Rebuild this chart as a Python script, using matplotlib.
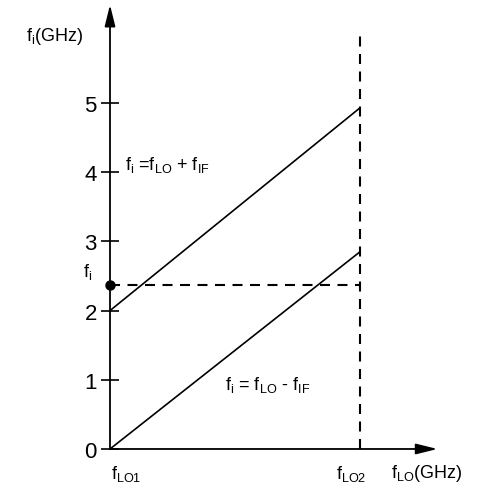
"""
Image frequency vs LO frequency sketch: f_i = f_LO + f_IF and f_i = f_LO - f_IF.
"""

import matplotlib
matplotlib.use("Agg")
import matplotlib.pyplot as plt

plt.rcParams["font.family"] = ["Liberation Sans", "DejaVu Sans"]
plt.rcParams["mathtext.fontset"] = "custom"
plt.rcParams["mathtext.rm"] = "Liberation Sans"
plt.rcParams["mathtext.it"] = "Liberation Sans"

# LO sweep endpoints (f_LO1 -> 0, f_LO2 -> 1) and the two frequency lines
LO_SWEEP  = [0.0, 1.0]
F_SUM     = [2.0, 4.93]     # f_i = f_LO + f_IF
F_DIFF    = [0.0, 2.85]     # f_i = f_LO - f_IF
FI_LEVEL  = 2.37            # marked f_i
LO2_TOP   = 6.07            # top of the f_LO2 marker line
Y_TICKS   = [0, 1, 2, 3, 4, 5]
X_END, Y_END = 1.31, 6.42   # arrow tips


def sub(s):
    return r"$_\mathregular{%s}$" % s


fig = plt.figure(figsize=(4.8, 4.85), dpi=100)
ax = fig.add_axes([0, 0, 1, 1])
ax.set_xlim(-0.44, 1.48)
ax.set_ylim(-0.506, 6.503)

# axes drawn as arrows through the origin
arrow = dict(arrowstyle="-|>,head_length=0.65,head_width=0.16",
             mutation_scale=20, color="black", lw=1.3,
             shrinkA=0, shrinkB=0)
ax.annotate("", xy=(0, Y_END), xytext=(0, 0), arrowprops=arrow)
ax.annotate("", xy=(X_END, 0), xytext=(0, 0), arrowprops=arrow)

for s in ax.spines.values():
    s.set_visible(False)
ax.spines["left"].set_position(("data", 0))
ax.spines["bottom"].set_position(("data", 0))
ax.set_yticks(Y_TICKS)
ax.set_yticklabels([str(t) for t in Y_TICKS], fontsize=16)
ax.tick_params(axis="y", direction="inout", length=13, width=1.2, pad=3)
ax.set_xticks([])

# the two frequency lines
ax.plot(LO_SWEEP, F_SUM, color="black", lw=1.2, solid_capstyle="butt")
ax.plot(LO_SWEEP, F_DIFF, color="black", lw=1.2, solid_capstyle="butt")

# dashed markers at f_LO2 and f_i
dash = dict(color="black", lw=1.5, dashes=(4.8, 3.6))
ax.plot([LO_SWEEP[1], LO_SWEEP[1]], [0, LO2_TOP], **dash)
ax.plot([LO_SWEEP[0], LO_SWEEP[1]], [FI_LEVEL, FI_LEVEL], **dash)
ax.plot(LO_SWEEP[0], FI_LEVEL, "o", color="black", ms=6.5, zorder=5)

fs = 13
ax.annotate("f" + sub("i"), xy=(0, FI_LEVEL), xytext=(-16, 10),
            textcoords="offset points", fontsize=fs, ha="center", va="center")
ax.annotate("f" + sub("i") + "(GHz)", xy=(0, Y_END), xytext=(-40, -22),
            textcoords="offset points", fontsize=fs, ha="center", va="center")
ax.annotate("f" + sub("i") + " =f" + sub("LO") + " + f" + sub("IF"),
            xy=(0, 4), xytext=(11, 6), textcoords="offset points",
            fontsize=fs, ha="left", va="center")
ax.annotate("f" + sub("i") + " = f" + sub("LO") + " - f" + sub("IF"),
            xy=(0, 1), xytext=(83, -3), textcoords="offset points",
            fontsize=fs, ha="left", va="center")

ax.annotate("f" + sub("LO1"), xy=(LO_SWEEP[0], 0), xytext=(1, -17),
            textcoords="offset points", fontsize=fs, ha="left", va="center")
ax.annotate("f" + sub("LO2"), xy=(LO_SWEEP[1], 0), xytext=(-6, -17),
            textcoords="offset points", fontsize=fs, ha="center", va="center")
ax.annotate("f" + sub("LO") + "(GHz)", xy=(LO_SWEEP[1], 0), xytext=(22, -17),
            textcoords="offset points", fontsize=fs, ha="left", va="center")

fig.savefig("out.png", dpi=100)
